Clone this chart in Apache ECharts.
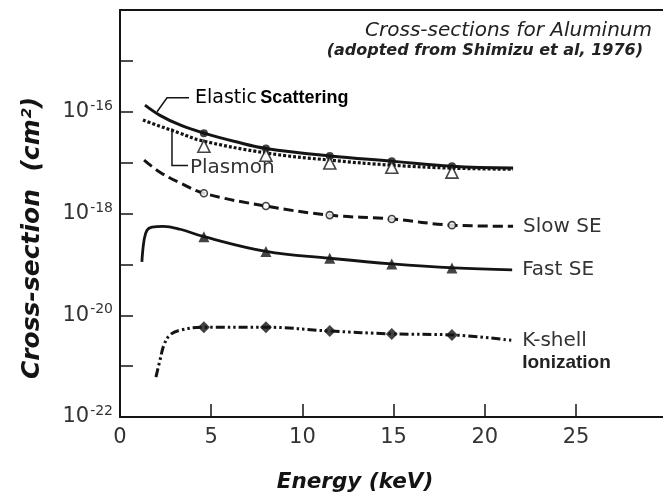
<!DOCTYPE html>
<html>
<head>
<meta charset="utf-8">
<script src="https://cdn.jsdelivr.net/npm/echarts@6/dist/echarts.min.js"></script>
<style>
  html, body { margin: 0; padding: 0; background: #fff; }
  #chart { width: 663px; height: 498px; }
</style>
</head>
<body>
<div id="chart"></div>
<script>
// Cross-sections for aluminum vs. primary energy (keV), values in cm^2

// Elastic scattering curve
const elasticE  = [1.37, 2.19, 3.29, 4.6, 6.3, 8.0, 11.5, 14.9, 18.2, 21.55];
const elasticCS = [1.35e-16, 8.5e-17, 5.5e-17, 3.8e-17, 2.6e-17, 1.9e-17, 1.35e-17, 1.07e-17, 8.5e-18, 7.8e-18];

// Plasmon excitation curve
const plasmonE  = [1.26, 2.19, 3.29, 4.39, 8.0, 11.5, 14.9, 18.2, 21.55];
const plasmonCS = [6.9e-17, 5.2e-17, 3.8e-17, 2.75e-17, 1.55e-17, 1.12e-17, 8.9e-18, 7.8e-18, 7.4e-18];

// Slow secondary electron production
const slowE  = [1.32, 2.19, 3.29, 4.6, 8.0, 11.5, 14.9, 18.2, 21.55];
const slowCS = [1.12e-17, 6.5e-18, 4.0e-18, 2.5e-18, 1.4e-18, 9.3e-19, 7.8e-19, 5.9e-19, 5.6e-19];

// Fast secondary electron production
const fastE  = [1.2, 1.32, 1.48, 1.75, 2.36, 3.3, 4.6, 8.0, 11.5, 14.9, 18.3, 21.5];
const fastCS = [1.12e-19, 3.0e-19, 4.7e-19, 5.4e-19, 5.6e-19, 4.9e-19, 3.5e-19, 1.8e-19, 1.32e-19, 1.02e-19, 8.5e-20, 7.8e-20];

// K-shell ionization
const kshellE  = [1.97, 2.19, 2.41, 2.74, 3.3, 4.55, 8.0, 11.5, 14.9, 18.2, 21.5];
const kshellCS = [6.1e-22, 1.3e-21, 2.6e-21, 4.1e-21, 5.1e-21, 5.8e-21, 5.8e-21, 4.9e-21, 4.3e-21, 4.1e-21, 3.2e-21];

// Tabulated points plotted as symbols
const markE          = [4.6, 8.0, 11.5, 14.9, 18.2];
const elasticMarks   = [3.8e-17, 1.9e-17, 1.35e-17, 1.07e-17, 8.5e-18];
const plasmonMarks   = [2.1e-17, 1.4e-17, 9.8e-18, 8.1e-18, 6.5e-18];
const slowMarks      = [2.5e-18, 1.4e-18, 9.3e-19, 7.8e-19, 5.9e-19];
const fastMarks      = [3.5e-19, 1.8e-19, 1.32e-19, 1.02e-19, 8.5e-20];
const kshellMarks    = [5.8e-21, 5.8e-21, 4.9e-21, 4.3e-21, 4.1e-21];

// Axis ticks
const xTicks = [0, 5, 10, 15, 20, 25];
const yLabelExponents = [-22, -20, -18, -16];

// The log axis works in units of 1e-22 cm^2 so the scale stays within
// ECharts' rounding precision; labels convert back to powers of ten.
const Y_UNIT_EXP = -22;
const toAxis = v => v * Math.pow(10, -Y_UNIT_EXP);

const INK = '#141414';
const TEXT = '#333';
const FONT = '"DejaVu Sans", Verdana, sans-serif';
const FONT2 = '"Liberation Sans", Arial, Helvetica, sans-serif';

const zip = (xs, ys) => xs.map((x, i) => [x, toAxis(ys[i])]);

function curve(name, xs, ys, width, dash) {
  return {
    name, type: 'line', xAxisIndex: 0, data: zip(xs, ys), smooth: 0.4,
    showSymbol: false, symbol: 'none', silent: true, z: 3,
    lineStyle: { color: INK, width, type: dash, cap: 'butt', join: 'round' }
  };
}
function marks(name, ys, symbol, size, filled) {
  return {
    name, type: 'scatter', xAxisIndex: 0, data: zip(markE, ys), symbol, symbolSize: size, z: 5,
    itemStyle: { color: filled ? INK : '#fff', borderColor: INK, borderWidth: filled ? 0 : 1.6 }
  };
}

const chart = echarts.init(document.getElementById('chart'), null, { renderer: 'canvas' });

const frameLine = { show: true, lineStyle: { color: INK, width: 2 } };
const option = {
  animation: false,
  backgroundColor: '#fff',
  grid: { left: 120, top: 10, right: 0, bottom: 81, show: false },
  xAxis: [{
    type: 'value', min: 0, max: 29.77,
    axisLine: frameLine,
    axisTick: { show: true, inside: true, length: 13, customValues: xTicks, lineStyle: { color: INK, width: 1.5 } },
    splitLine: { show: false },
    axisLabel: {
      margin: 10, color: TEXT, fontFamily: FONT, fontSize: 21, customValues: xTicks,
      formatter: v => String(v)
    }
  }, {
    // top edge of the frame
    type: 'value', position: 'top', min: 0, max: 29.77,
    axisLine: frameLine, axisTick: { show: false }, axisLabel: { show: false }, splitLine: { show: false }
  }],
  yAxis: {
    type: 'log', logBase: 10, min: 1, max: 1e8, splitNumber: 8,
    axisLine: frameLine,
    axisTick: { show: true, inside: true, length: 13, lineStyle: { color: INK, width: 1.5 } },
    splitLine: { show: false },
    minorTick: { show: false },
    axisLabel: {
      margin: 7, color: TEXT, fontFamily: FONT,
      formatter: v => {
        const e = Math.round(Math.log10(v)) + Y_UNIT_EXP;
        return yLabelExponents.indexOf(e) >= 0 ? '{b|10}{s|' + e + '}' : '';
      },
      rich: {
        b: { fontSize: 21, fontFamily: FONT, color: TEXT },
        s: { fontSize: 14, fontFamily: FONT, color: TEXT, verticalAlign: 'top', padding: [0, 0, 11, 1] }
      }
    }
  },
  series: [
    curve('Elastic Scattering', elasticE, elasticCS, 3, 'solid'),
    curve('Plasmon', plasmonE, plasmonCS, 3.2, [3, 2]),
    curve('Slow SE', slowE, slowCS, 3, [10, 5]),
    curve('Fast SE', fastE, fastCS, 2.8, 'solid'),
    curve('K-shell Ionization', kshellE, kshellCS, 3, [9, 3, 2.5, 3, 2.5, 3]),
    marks('Elastic Scattering data', elasticMarks, 'circle', 8, true),
    marks('Plasmon data', plasmonMarks, 'triangle', 12, false),
    marks('Slow SE data', slowMarks, 'circle', 7, false),
    marks('Fast SE data', fastMarks, 'triangle', 11, true),
    marks('K-shell Ionization data', kshellMarks, 'diamond', 12, true)
  ]
};
chart.setOption(option);

// Curve annotations anchored to data coordinates
const px = (x, y) => chart.convertToPixel({ xAxisIndex: 0, yAxisIndex: 0 }, [x, toAxis(y)]);
const last = (xs, ys) => px(xs[xs.length - 1], ys[ys.length - 1]);
const label = (x, y, text, font, extra) => ({
  type: 'text', x, y,
  style: Object.assign({ text, fill: TEXT, font, textVerticalAlign: 'middle' }, extra || {})
});

const pSlow = last(slowE, slowCS);
const pFast = last(fastE, fastCS);
const pK = last(kshellE, kshellCS);
const pElastic = px(2.03, 1.0e-16);
const pPlasmon = px(2.85, 4.7e-17);

const graphics = [
  // Title block
  { type: 'text', right: 11, top: 21, style: { text: 'Cross-sections for Aluminum', fill: '#222', font: 'italic 20px ' + FONT, textAlign: 'right' } },
  { type: 'text', right: 20, top: 43, style: { text: '(adopted from Shimizu et al, 1976)', fill: '#222', font: 'italic bold 16px ' + FONT, textAlign: 'right' } },
  // Axis titles
  { type: 'text', x: 355, y: 482, style: { text: 'Energy (keV)', fill: INK, font: 'italic bold 21.5px ' + FONT, textAlign: 'center', textVerticalAlign: 'middle' } },
  { type: 'text', x: 32, y: 238, rotation: Math.PI / 2,
    style: { text: 'Cross-section  (cm²)', fill: INK, font: 'italic bold 25px ' + FONT, textAlign: 'center', textVerticalAlign: 'middle' } },
  // Right-hand curve names
  label(pSlow[0] + 10, pSlow[1], 'Slow SE', '20px ' + FONT),
  label(pFast[0] + 10, pFast[1], 'Fast SE', '20px ' + FONT),
  label(pK[0] + 10, pK[1], 'K-shell', '20px ' + FONT),
  label(pK[0] + 10, pK[1] + 22, 'Ionization', 'bold 19px ' + FONT2, { fill: '#222' }),
  // Elastic scattering callout
  { type: 'polyline', shape: { points: [[pElastic[0], pElastic[1]], [pElastic[0] + 10, pElastic[1] - 14], [pElastic[0] + 32, pElastic[1] - 14]] },
    style: { stroke: INK, lineWidth: 1.5, fill: null } },
  { type: 'text', x: pElastic[0] + 38, y: pElastic[1] - 14,
    style: {
      text: '{a|Elastic} {b|Scattering}', textVerticalAlign: 'middle',
      rich: {
        a: { fontFamily: FONT, fontSize: 19, color: TEXT },
        b: { fontFamily: FONT2, fontSize: 18, fontWeight: 'bold', color: '#222' }
      }
    } },
  // Plasmon callout
  { type: 'polyline', shape: { points: [[pPlasmon[0], pPlasmon[1]], [pPlasmon[0], pPlasmon[1] + 37], [pPlasmon[0] + 16, pPlasmon[1] + 37]] },
    style: { stroke: INK, lineWidth: 1.5, fill: null } },
  label(pPlasmon[0] + 18, pPlasmon[1] + 39, 'Plasmon', '20px ' + FONT)
];
chart.setOption({ graphic: graphics });
</script>
</body>
</html>
